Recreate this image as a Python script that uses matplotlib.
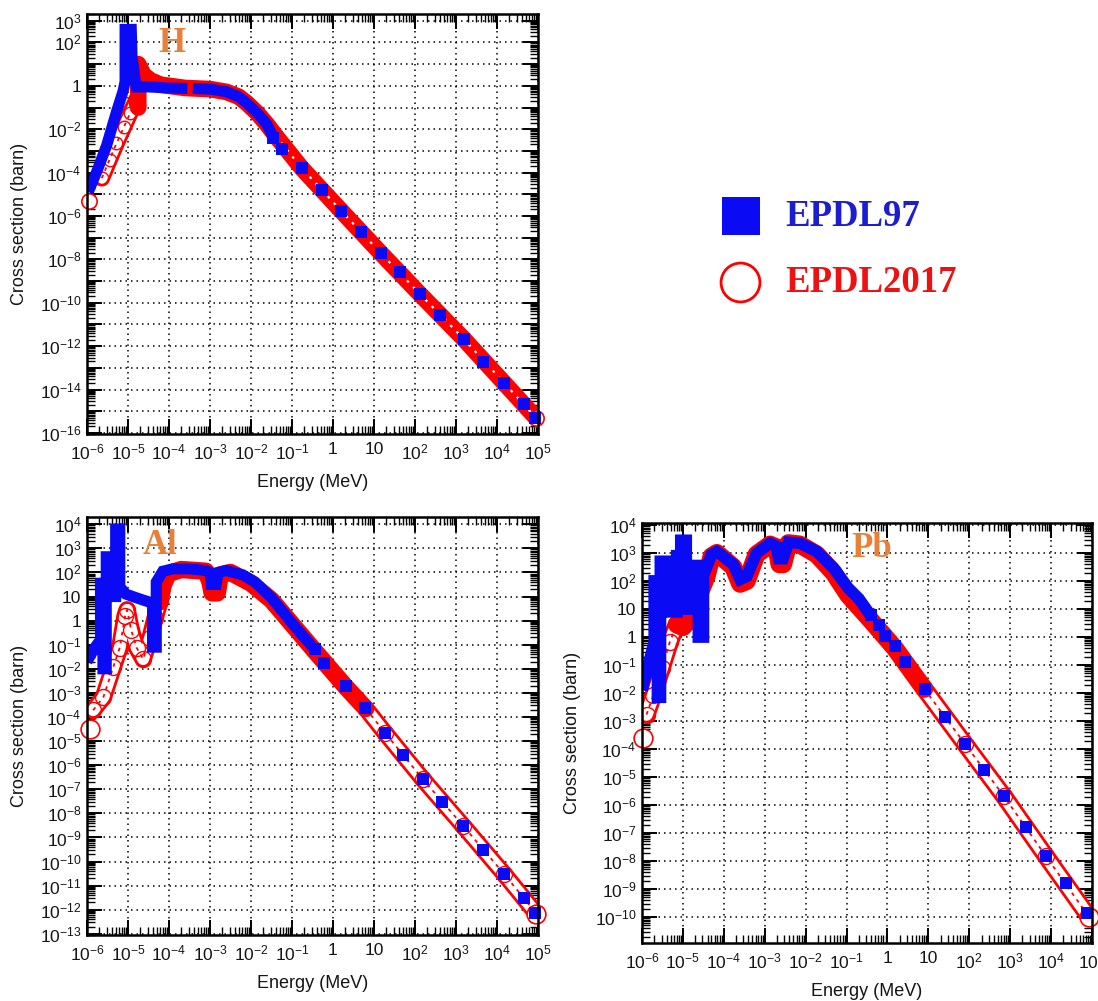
import numpy as np
import matplotlib
matplotlib.use('Agg')
import matplotlib.pyplot as plt
from matplotlib.ticker import FixedLocator, LogLocator, FuncFormatter, NullFormatter
from matplotlib.lines import Line2D

plt.rcParams['font.family'] = ['Liberation Sans', 'DejaVu Sans']
plt.rcParams['mathtext.fontset'] = 'custom'
plt.rcParams['mathtext.rm'] = 'Liberation Sans'
plt.rcParams['mathtext.it'] = 'Liberation Sans:italic'
plt.rcParams['mathtext.bf'] = 'Liberation Sans:bold'

BLUE = '#0a0af5'
RED = '#ff0000'
ORANGE = '#e8803a'
nan = np.nan

# --- data: log10(E / MeV), log10(sigma / barn) ---

# H
h97_e = [-5.97, -5.75, -5.52, -5.28, -5.12, -5.07, -5.07, -4.92, -4.90, -4.80, -4.5, -4.0, -3.55, nan,
         -3.42, -3.0, -2.6, -2.3, -2.1, -1.85, -1.62, -1.46]
h97_s = [-4.9, -3.9, -2.75, -1.2, -0.25, 0.2, 2.6, 2.6, 1.3, -0.05, -0.05, -0.1, -0.12, nan,
         -0.12, -0.15, -0.27, -0.5, -0.8, -1.25, -1.75, -2.35]
h97_pts_e = [-1.46, -1.24, -0.76, -0.28, 0.20, 0.68, 1.16, 1.64, 2.12, 2.60, 3.19, 3.67, 4.17, 4.66, 4.93]
h97_pts_s = [-2.41, -2.91, -3.81, -4.79, -5.76, -6.74, -7.70, -8.60, -9.60, -10.58, -11.67, -12.72, -13.69, -14.67, -15.29]
h17_first = (-5.94, -5.3)
h17_low_e = [-5.64, -5.45, -5.28, -5.10, -4.95, -4.79]
h17_low_s = [-4.26, -3.40, -2.65, -1.90, -1.27, -0.65]
h17_mid_e = [-4.79, -4.75, -4.75, -4.62, -4.45, -4.2, -3.6, -3.0, -2.6, -2.3, -2.1, -1.85, -1.6, -1.4]
h17_mid_s = [-0.65, -1.0, 1.0, 0.5, 0.25, 0.05, -0.1, -0.15, -0.28, -0.5, -0.8, -1.25, -1.8, -2.3]
h17_diag_e = [-1.4, -0.76, 0.20, 1.16, 2.12, 3.19, 4.17, 4.95]
h17_diag_s = [-2.3, -3.8, -5.76, -7.70, -9.60, -11.67, -13.69, -15.3]

# Al
al97_e = [-6.0, -5.8, -5.67, -5.67, -5.61, -5.61, -5.53, -5.53, -5.40, -5.40, -5.30, -5.30, -5.20, -5.20,
          -5.05, -4.8, -4.5, -4.40, -4.40, -4.31, -4.31, -4.15, -3.9, -3.5, -3.1, -3.0, -2.97, -2.85,
          -2.80, -2.6, -2.2, -1.9, -1.5, -1.0, -0.7, -0.45]
al97_s = [-1.7, -1.1, -0.8, 1.55, 1.55, -2.0, -2.0, 2.65, 2.65, 1.0, 1.0, 3.8, 3.8, 1.4,
          1.1, 0.95, 0.78, 0.70, -1.1, -1.1, 1.6, 2.05, 2.15, 2.15, 2.08, 2.0, 1.5, 1.5,
          2.0, 2.08, 1.9, 1.6, 0.95, -0.1, -0.7, -1.18]
al97_pts_e = [-0.45, -0.21, 0.31, 0.79, 1.27, 1.71, 2.19, 2.67, 3.17, 3.67, 4.17, 4.66, 4.93]
al97_pts_s = [-1.18, -1.74, -2.73, -3.63, -4.66, -5.58, -6.58, -7.52, -8.51, -9.51, -10.51, -11.50, -12.13]
al17_first = (-5.93, -4.51)
al17_low_e = [-5.85, -5.60, -5.36, -5.20, -5.07, -5.02, -4.92, -4.79, -4.63, -4.46, -4.34, -4.22]
al17_low_s = [-3.72, -3.18, -1.94, -1.12, 0.2, 0.45, -0.4, -1.12, -1.6, -0.71, 0.1, 0.8]
al17_mid_e = [-4.22, -4.14, -4.02, -3.7, -3.1, -3.0, -2.95, -2.82, -2.75, -2.5, -2.0, -1.5, -1.0, -0.45, 0.31, 0.8]
al17_mid_s = [0.8, 1.47, 1.95, 2.12, 2.05, 1.6, 1.15, 1.15, 1.9, 2.0, 1.55, 0.85, -0.15, -1.25, -2.75, -3.65]
al17_diag_e = [0.8, 1.27, 2.19, 3.17, 4.17, 4.96]
al17_diag_s = [-3.65, -4.66, -6.58, -8.51, -10.51, -12.16]

# Pb
pb97_e = [-6.0, -5.85, -5.70, -5.70, -5.62, -5.62, -5.55, -5.55, -5.35, -5.35, -5.15, -5.15, -5.05, -5.05,
          -4.92, -4.92, -4.78, -4.78, -4.62, -4.62, -4.50, -4.50, -4.42, -4.3, -4.17, -3.77, -3.6, -3.44,
          -3.2, -2.87, -2.71, -2.66, -2.55, -2.42, -2.14, -1.73, -1.32, -0.96, -0.7, -0.41]
pb97_s = [-1.9, -1.0, -0.2, 2.0, 2.0, -2.15, -2.15, 2.7, 2.7, 0.9, 0.9, 2.9, 2.9, 3.45,
          3.45, 1.0, 1.0, 2.55, 2.55, 0.0, 0.0, 2.2, 2.5, 2.95, 3.05, 2.6, 2.06, 2.17,
          3.0, 3.35, 3.24, 2.8, 2.8, 3.38, 3.35, 3.06, 2.47, 1.75, 1.37, 0.77]
pb97_pts_e = [-0.41, -0.21, -0.05, 0.18, 0.43, 0.92, 1.40, 1.89, 2.37, 2.85, 3.38, 3.87, 4.37, 4.87]
pb97_pts_s = [0.77, 0.44, 0.05, -0.31, -0.90, -1.86, -2.84, -3.81, -4.76, -5.69, -6.79, -7.82, -8.80, -9.84]
pb17_first = (-5.97, -3.6)
pb17_low_e = [-5.89, -5.72, -5.52, -5.32, -5.15]
pb17_low_s = [-2.77, -2.07, -1.12, -0.18, 0.45]
pb17_mid_e = [-5.15, -5.0, -4.85, -4.7, -4.58, -4.42, -4.30, -4.17, -3.77, -3.6, -3.44, -3.2, -2.87, -2.71,
              -2.64, -2.55, -2.42, -2.14, -1.73, -1.32, -0.96, -0.41, 0.18, 0.9]
pb17_mid_s = [0.45, 0.35, 0.6, 0.9, 1.59, 2.17, 2.88, 3.0, 2.5, 1.9, 2.0, 2.95, 3.3, 3.2,
              2.6, 2.6, 3.35, 3.3, 2.95, 2.3, 1.5, 0.6, -0.4, -1.85]
pb17_diag_e = [0.9, 1.89, 2.85, 3.87, 4.93]
pb17_diag_s = [-1.85, -3.81, -5.69, -7.82, -10.0]

x_decades = np.arange(-6, 6)


def p10(v):
    return np.power(10.0, np.asarray(v, dtype=float))


def make_fmt(labeled):
    def f(v, pos):
        e = int(round(np.log10(v)))
        if e not in labeled:
            return ''
        if e == 0:
            return '1'
        if e == 1:
            return '10'
        return r'$10^{%d}$' % e
    return FuncFormatter(f)


def open_band(ax, e, s, lw):
    # chain of open circles: red rims, white inside, red hatching along the middle
    x, y = p10(e), p10(s)
    ax.plot(x, y, color=RED, lw=lw, solid_capstyle='round', solid_joinstyle='round')
    ax.plot(x, y, color='white', lw=lw - 4.0, solid_capstyle='round', solid_joinstyle='round')
    ax.plot(x, y, color=RED, lw=1.3, ls=(0, (2.0, 2.5)))


def draw_panel(ax, d97, pts97, first17, low17, mid17, diag17, ylim, ylabeled,
               name, name_xy, red_lw, blue_lw, circ_ms, diag_open=True, ylab_x=-0.131):
    # EPDL2017 (open circles, drawn below)
    open_band(ax, low17[0], low17[1], red_lw)
    if diag_open:
        open_band(ax, diag17[0], diag17[1], red_lw)
    else:
        ax.plot(p10(diag17[0]), p10(diag17[1]), color=RED, lw=red_lw, solid_capstyle='round')
        ax.plot(p10(diag17[0]), p10(diag17[1]), color='white', lw=1.6, ls=(0, (1.2, 2.8)))
    ax.plot(p10(mid17[0]), p10(mid17[1]), color=RED, lw=red_lw, solid_capstyle='round',
            solid_joinstyle='round')
    ax.plot(p10(low17[0]), p10(low17[1]), 'o', mfc='none', mec=RED, ms=circ_ms, mew=1.0)
    if diag_open:
        ax.plot(p10(diag17[0][1:-1]), p10(diag17[1][1:-1]), 'o', mfc='none', mec=RED,
                ms=circ_ms, mew=1.0)
    ax.plot(p10([first17[0], diag17[0][-1]]), p10([first17[1], diag17[1][-1]]), 'o',
            mfc='white', mec=RED, ms=circ_ms + 2, mew=1.2, clip_on=False)

    # EPDL97 (filled squares)
    ax.plot(p10(d97[0]), p10(d97[1]), color=BLUE, lw=blue_lw, solid_capstyle='butt',
            solid_joinstyle='miter')
    ax.plot(p10(pts97[0]), p10(pts97[1]), 's', color=BLUE, ms=8.5, mew=0, clip_on=False)

    ax.set_xscale('log')
    ax.set_yscale('log')
    ax.set_xlim(1e-6, 1e5)
    ax.set_ylim(10 ** ylim[0], 10 ** ylim[1])

    ax.xaxis.set_major_locator(FixedLocator(p10(x_decades)))
    ax.xaxis.set_major_formatter(make_fmt(list(x_decades)))
    ydec = np.arange(int(np.ceil(ylim[0])), int(np.floor(ylim[1])) + 1)
    ax.yaxis.set_major_locator(FixedLocator(p10(ydec)))
    ax.yaxis.set_major_formatter(make_fmt(ylabeled))
    for axis in (ax.xaxis, ax.yaxis):
        axis.set_minor_locator(LogLocator(10, subs=np.arange(2, 10), numticks=300))
        axis.set_minor_formatter(NullFormatter())

    ax.tick_params(which='both', direction='in', top=True, right=True, colors='black',
                   labelcolor='#151515')
    ax.tick_params(which='major', length=11, width=1.4, labelsize=12.5)
    ax.tick_params(which='minor', length=6, width=1.0)
    ax.tick_params(axis='x', which='major', pad=6)
    ax.tick_params(axis='y', which='major', pad=4)
    ax.grid(True, which='major', color='black', ls=(0, (1, 2.6)), lw=1.1)
    for s in ax.spines.values():
        s.set_linewidth(1.8)

    ax.set_xlabel('Energy (MeV)', fontsize=13, color='#151515')
    ax.set_ylabel('Cross section (barn)', fontsize=13, color='#151515')
    ax.xaxis.set_label_coords(0.5, -0.095)
    ax.yaxis.set_label_coords(ylab_x, 0.5)

    ax.text(name_xy[0], name_xy[1], name, transform=ax.transAxes, color=ORANGE,
            fontsize=25, fontweight='bold', family='Liberation Serif', ha='center', va='center')


fig = plt.figure(figsize=(10.98, 10.01), dpi=100)
ax_h = fig.add_axes([0.0792, 0.5664, 0.4108, 0.4196])
ax_al = fig.add_axes([0.0792, 0.0659, 0.4108, 0.4176])
ax_pb = fig.add_axes([0.5847, 0.0579, 0.4098, 0.4196])

draw_panel(ax_h, (h97_e, h97_s), (h97_pts_e, h97_pts_s), h17_first,
           (h17_low_e, h17_low_s), (h17_mid_e, h17_mid_s), (h17_diag_e, h17_diag_s),
           (-16.05, 3.31), [3, 2, 0, -2, -4, -6, -8, -10, -12, -14, -16],
           'H', (0.188, 0.929), red_lw=12, blue_lw=8, circ_ms=9, diag_open=False)
draw_panel(ax_al, (al97_e, al97_s), (al97_pts_e, al97_pts_s), al17_first,
           (al17_low_e, al17_low_s), (al17_mid_e, al17_mid_s), (al17_diag_e, al17_diag_s),
           (-13.05, 4.3), list(range(-13, 5)),
           'Al', (0.162, 0.931), red_lw=12.5, blue_lw=8, circ_ms=11.5)
draw_panel(ax_pb, (pb97_e, pb97_s), (pb97_pts_e, pb97_pts_s), pb17_first,
           (pb17_low_e, pb17_low_s), (pb17_mid_e, pb17_mid_s), (pb17_diag_e, pb17_diag_s),
           (-10.93, 4.07), list(range(-10, 5)),
           'Pb', (0.511, 0.94), red_lw=13, blue_lw=8.5, circ_ms=11.5, ylab_x=-0.136)

# legend at top right
fig.add_artist(Line2D([741 / 1098], [1 - 216 / 1001], marker='s', ms=27, color=BLUE, mew=0,
                      ls='none', transform=fig.transFigure))
fig.add_artist(Line2D([740 / 1098], [1 - 282 / 1001], marker='o', ms=28, mfc='none', mec=RED,
                      mew=2.0, ls='none', transform=fig.transFigure))
fig.text(785 / 1098, 1 - 217 / 1001, 'EPDL97', color='#1c1cd0', fontsize=26.5, fontweight='bold',
         family='Liberation Serif', ha='left', va='center')
fig.text(785 / 1098, 1 - 283 / 1001, 'EPDL2017', color='#ee1111', fontsize=26.5, fontweight='bold',
         family='Liberation Serif', ha='left', va='center')

fig.savefig('out.png', dpi=100)
